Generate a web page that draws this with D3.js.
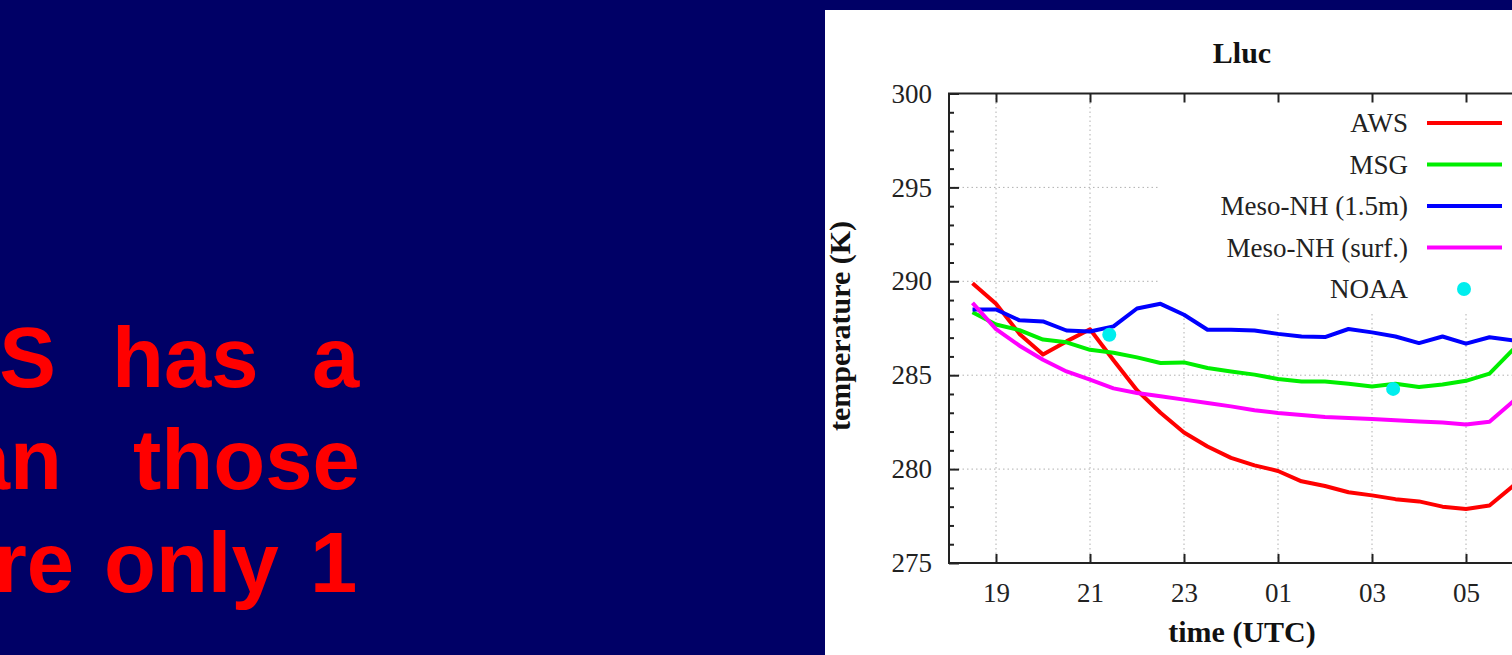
<!DOCTYPE html>
<html>
<head>
<meta charset="utf-8">
<script src="https://cdn.jsdelivr.net/npm/d3@7/dist/d3.min.js"></script>
<style>
  html, body { margin: 0; padding: 0; background: #000066; overflow: hidden; }
  svg { display: block; }
</style>
</head>
<body>
<svg id="chart" width="1512" height="655"></svg>
<script>
// ---------------- data ----------------
const chartTitle = "Lluc";
const xLabel = "time (UTC)";
const yLabel = "temperature (K)";

// time in hours since 00 UTC of first day (24 = 00 UTC next day)
const hours = [18.5, 19, 19.5, 20, 20.5, 21, 21.5, 22, 22.5, 23, 23.5, 24, 24.5, 25, 25.5,
               26, 26.5, 27, 27.5, 28, 28.5, 29, 29.5, 30, 30.5];

const aws    = [289.9, 288.8, 287.2, 286.1, 286.8, 287.45, 285.8, 284.2, 283.0, 281.95, 281.2, 280.6, 280.2, 279.9, 279.35,
                279.1, 278.77, 278.6, 278.4, 278.28, 278.0, 277.88, 278.06, 279.1, 280.6];
const msg    = [288.35, 287.7, 287.4, 286.9, 286.75, 286.35, 286.2, 285.95, 285.65, 285.68, 285.38, 285.2, 285.03, 284.8, 284.67,
                284.67, 284.55, 284.4, 284.55, 284.37, 284.5, 284.7, 285.08, 286.36, 287.7];
const mesoNH15 = [288.5, 288.5, 287.92, 287.86, 287.38, 287.33, 287.6, 288.55, 288.8, 288.22, 287.42, 287.42, 287.38, 287.2, 287.06,
                287.03, 287.46, 287.28, 287.06, 286.71, 287.06, 286.68, 287.02, 286.85, 286.8];
const mesoNHsurf = [288.85, 287.45, 286.57, 285.82, 285.2, 284.76, 284.3, 284.05, 283.88, 283.7, 283.52, 283.34, 283.13, 282.99, 282.88,
                282.78, 282.72, 282.67, 282.6, 282.54, 282.48, 282.37, 282.52, 283.6, 285.0];

const noaaHours = [21.41, 27.45];
const noaaTemps = [287.15, 284.27];

const seriesNames  = ["AWS", "MSG", "Meso-NH (1.5m)", "Meso-NH (surf.)", "NOAA"];
const seriesColors = ["#ff0000", "#00ee00", "#0000ff", "#ff00ff", "#00eeee"];

const xTickValues = [19, 21, 23, 25, 27, 29];
const xTickLabels = ["19", "21", "23", "01", "03", "05"];
const yTickValues = [275, 280, 285, 290, 295, 300];

const slideLines = [
  { first: "AWS",  rest: [["has", 112], ["a", 312]],  base: 387, firstEnd: 56 },
  { first: "than", rest: [["those", 133]],             base: 489, firstEnd: 62 },
  { first: "are",  rest: [["only", 104], ["1", 310]],  base: 592, firstEnd: 74 }
];

// ---------------- drawing ----------------
const svg = d3.select("#chart");

// slide background
svg.append("rect").attr("x", 0).attr("y", 0).attr("width", 1512).attr("height", 655).attr("fill", "#000066");

// slide text (left, partially cut off)
const tg = svg.append("g").attr("font-family", "'Liberation Sans', Arial, sans-serif")
  .attr("font-weight", "bold").attr("font-size", 85).attr("fill", "#ff0000");
slideLines.forEach(l => {
  tg.append("text").attr("x", l.firstEnd).attr("y", l.base).attr("text-anchor", "end").text(l.first);
  l.rest.forEach(([w, x]) => {
    tg.append("text").attr("x", x).attr("y", l.base).text(w);
  });
});

// white chart panel
svg.append("rect").attr("x", 825).attr("y", 10).attr("width", 700).attr("height", 660).attr("fill", "#ffffff");

const plot = { left: 949, top: 93.5, bottom: 563 };
const x = d3.scaleLinear().domain([18, 30.5]).range([plot.left, plot.left + 12.5 * 47]);
const y = d3.scaleLinear().domain([275, 300]).range([plot.bottom, plot.top]);
const plotRight = x.range()[1];

const serif = "'Liberation Serif', 'Times New Roman', serif";

// clip
svg.append("defs").append("clipPath").attr("id", "clip")
  .append("rect").attr("x", plot.left).attr("y", plot.top).attr("width", plotRight - plot.left).attr("height", plot.bottom - plot.top);

// grid
const grid = svg.append("g").attr("stroke", "#b0b0b0").attr("stroke-width", 1).attr("stroke-dasharray", "1.5,3");
xTickValues.forEach(v => {
  grid.append("line").attr("x1", x(v)).attr("x2", x(v)).attr("y1", plot.top).attr("y2", plot.bottom);
});
yTickValues.filter(v => v > 275 && v < 300).forEach(v => {
  grid.append("line").attr("x1", plot.left).attr("x2", plotRight).attr("y1", y(v)).attr("y2", y(v));
});

// opaque key box
const keyBox = { x: 1159, y: plot.top + 1, w: plotRight - 1159 - 1, h: 312 - plot.top };
svg.append("rect").attr("x", keyBox.x).attr("y", keyBox.y).attr("width", keyBox.w).attr("height", keyBox.h).attr("fill", "#ffffff");

// lines
const seriesData = [aws, msg, mesoNH15, mesoNHsurf];
const lineGen = d3.line().x(d => x(d[0])).y(d => y(d[1]));
const lines = svg.append("g").attr("clip-path", "url(#clip)");
seriesData.forEach((vals, i) => {
  lines.append("path")
    .datum(hours.map((h, j) => [h, vals[j]]))
    .attr("d", lineGen)
    .attr("fill", "none")
    .attr("stroke", seriesColors[i])
    .attr("stroke-width", 4)
    .attr("stroke-linejoin", "round");
});
lines.selectAll("circle.noaa").data(noaaHours.map((h, j) => [h, noaaTemps[j]])).join("circle")
  .attr("class", "noaa")
  .attr("cx", d => x(d[0])).attr("cy", d => y(d[1])).attr("r", 7)
  .attr("fill", seriesColors[4]);

// axes
const axisColor = "#222";
function styleAxis(g) {
  g.select(".domain").remove();
  g.selectAll(".tick line").attr("stroke", axisColor).attr("stroke-width", 2);
  g.selectAll(".tick text").attr("fill", "#222").attr("font-family", serif).attr("font-size", 27);
}

// bottom axis (ticks inward)
svg.append("g").attr("transform", `translate(0,${plot.bottom})`)
  .call(d3.axisBottom(x).tickValues(xTickValues).tickFormat((d, i) => xTickLabels[i]).tickSize(-9).tickPadding(20))
  .call(styleAxis);
// top mirror ticks
svg.append("g").attr("transform", `translate(0,${plot.top})`)
  .call(d3.axisTop(x).tickValues(xTickValues).tickFormat("").tickSize(-9))
  .call(styleAxis);
// left axis, minor ticks
svg.append("g").attr("transform", `translate(${plot.left},0)`)
  .call(d3.axisLeft(y).tickValues(d3.range(275, 301, 1).filter(v => v % 5 !== 0)).tickFormat("").tickSize(-5))
  .call(styleAxis);
// left axis, major ticks
svg.append("g").attr("transform", `translate(${plot.left},0)`)
  .call(d3.axisLeft(y).tickValues(yTickValues).tickFormat(d3.format("d")).tickSize(-10).tickPadding(17))
  .call(styleAxis);

// border
svg.append("rect").attr("x", plot.left).attr("y", plot.top).attr("width", plotRight - plot.left).attr("height", plot.bottom - plot.top)
  .attr("fill", "none").attr("stroke", axisColor).attr("stroke-width", 2);

// title and axis labels
svg.append("text").attr("x", 1242).attr("y", 63).attr("text-anchor", "middle")
  .attr("font-family", serif).attr("font-weight", "bold").attr("font-size", 30).attr("fill", "#111").text(chartTitle);
svg.append("text").attr("x", 1242).attr("y", 642).attr("text-anchor", "middle")
  .attr("font-family", serif).attr("font-weight", "bold").attr("font-size", 30).attr("fill", "#111").text(xLabel);
svg.append("text").attr("transform", "translate(850,326) rotate(-90)").attr("text-anchor", "middle")
  .attr("font-family", serif).attr("font-weight", "bold").attr("font-size", 30).attr("fill", "#111").text(yLabel);

// legend
const leg = svg.append("g");
seriesNames.forEach((name, i) => {
  const ly = 123 + i * 41.5;
  leg.append("text").attr("x", 1408).attr("y", ly).attr("dy", "0.35em").attr("text-anchor", "end")
    .attr("font-family", serif).attr("font-size", 27).attr("fill", "#222").text(name);
  if (i < 4) {
    leg.append("line").attr("x1", 1427).attr("x2", 1502).attr("y1", ly).attr("y2", ly)
      .attr("stroke", seriesColors[i]).attr("stroke-width", 4);
  } else {
    leg.append("circle").attr("cx", 1464).attr("cy", ly).attr("r", 7).attr("fill", seriesColors[i]);
  }
});
</script>
</body>
</html>
